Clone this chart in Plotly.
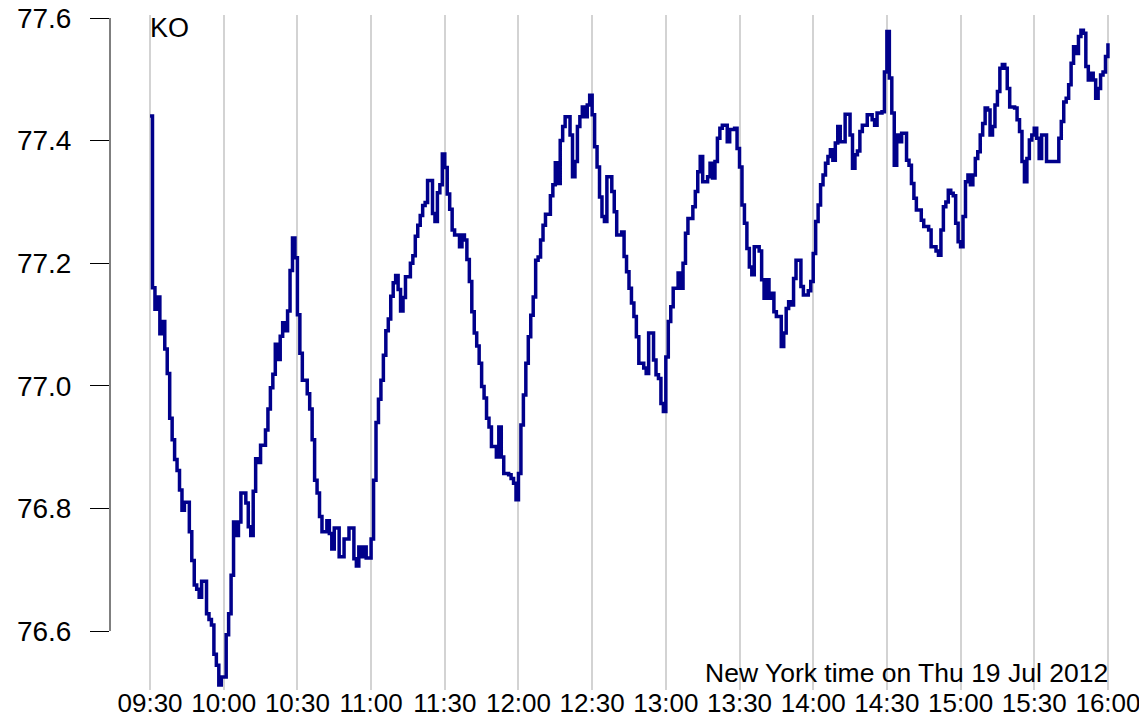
import pandas as pd
import plotly.graph_objects as go

symbol = "KO"
session_date = "2012-07-19"
caption = "New York time on Thu 19 Jul 2012"

minutes = [
    0, 1, 2, 3, 4, 5, 6, 7, 8, 9, 10, 11, 12, 13, 14, 16, 17, 18, 19, 20, 21, 23, 24, 25, 26, 27, 28, 29,
    31, 32, 33, 34, 35, 36, 37, 39, 40, 41, 42, 43, 44, 45, 47, 48, 49, 50, 51, 52, 53, 54, 55, 56, 57, 58,
    59, 60, 61, 62, 64, 65, 66, 67, 68, 69, 70, 72, 73, 74, 75, 77, 79, 81, 83, 84, 85, 86, 87, 88, 90,
    91, 92, 93, 94, 95, 96, 97, 98, 99, 100, 101, 102, 103, 104, 106, 107, 108, 109, 110, 111, 112, 113,
    115, 116, 117, 118, 119, 120, 121, 122, 123, 124, 126, 127, 128, 129, 130, 131, 132, 133, 134, 135,
    136, 137, 138, 139, 141, 142, 143, 144, 146, 147, 148, 149, 150, 151, 152, 153, 154, 155, 156, 157,
    158, 159, 160, 161, 163, 164, 165, 166, 167, 168, 169, 171, 172, 173, 174, 175, 176, 177, 178, 179,
    180, 181, 182, 183, 184, 185, 186, 188, 189, 190, 192, 193, 194, 195, 196, 197, 198, 199, 201, 202,
    203, 205, 206, 207, 208, 209, 210, 211, 212, 213, 215, 216, 217, 218, 219, 221, 222, 223, 224, 225,
    227, 228, 229, 230, 231, 232, 233, 235, 236, 238, 239, 240, 241, 242, 243, 244, 245, 246, 248, 249,
    250, 251, 252, 253, 254, 255, 257, 258, 259, 260, 261, 262, 263, 265, 266, 268, 269, 270, 271, 272,
    273, 274, 275, 276, 277, 278, 279, 280, 281, 283, 285, 286, 287, 288, 289, 290, 292, 294, 295, 296,
    298, 299, 300, 301, 302, 303, 304, 305, 306, 308, 309, 310, 311, 312, 314, 315, 317, 318, 320, 321,
    322, 323, 324, 325, 326, 327, 328, 329, 330, 331, 332, 333, 334, 335, 336, 337, 338, 339, 340, 341,
    342, 343, 344, 345, 346, 347, 348, 349, 350, 352, 353, 354, 355, 356, 357, 358, 359, 360, 361, 362,
    363, 365, 370, 371, 372, 373, 374, 375, 376, 377, 378, 379, 380, 381, 382, 383, 384, 385, 386, 387,
    388, 389, 390,
]

prices = [
    77.44, 77.16, 77.125, 77.145, 77.085, 77.105, 77.06, 77.02, 76.947, 76.912, 76.88, 76.862, 76.83,
    76.797, 76.81, 76.762, 76.715, 76.675, 76.668, 76.655, 76.681, 76.628, 76.619, 76.61, 76.562, 76.544,
    76.512, 76.525, 76.594, 76.628, 76.691, 76.778, 76.756, 76.778, 76.825, 76.809, 76.77, 76.756, 76.828,
    76.881, 76.875, 76.903, 76.928, 76.962, 76.997, 77.019, 77.068, 77.043, 77.081, 77.103, 77.09, 77.122,
    77.188, 77.241, 77.209, 77.116, 77.053, 77.009, 76.987, 76.962, 76.912, 76.846, 76.825, 76.787,
    76.762, 76.78, 76.759, 76.734, 76.768, 76.721, 76.75, 76.768, 76.718, 76.706, 76.737, 76.721, 76.737,
    76.719, 76.75, 76.846, 76.94, 76.978, 77.009, 77.05, 77.09, 77.109, 77.146, 77.168, 77.18, 77.157,
    77.122, 77.144, 77.178, 77.2, 77.212, 77.244, 77.262, 77.278, 77.294, 77.299, 77.335, 77.281, 77.268,
    77.315, 77.328, 77.378, 77.356, 77.313, 77.288, 77.254, 77.246, 77.227, 77.246, 77.238, 77.206,
    77.17, 77.121, 77.086, 77.065, 77.037, 76.999, 76.98, 76.947, 76.933, 76.901, 76.884, 76.933, 76.884,
    76.857, 76.855, 76.849, 76.841, 76.814, 76.857, 76.936, 76.985, 77.037, 77.08, 77.115, 77.145,
    77.205, 77.21, 77.238, 77.262, 77.28, 77.31, 77.328, 77.364, 77.33, 77.40, 77.423, 77.439, 77.409,
    77.341, 77.366, 77.423, 77.439, 77.455, 77.439, 77.458, 77.474, 77.442, 77.39, 77.357, 77.308,
    77.276, 77.268, 77.341, 77.317, 77.284, 77.246, 77.251, 77.211, 77.186, 77.159, 77.135, 77.113,
    77.08, 77.037, 77.029, 77.02, 77.086, 77.042, 77.018, 77.012, 76.971, 76.958, 77.047, 77.105, 77.129,
    77.159, 77.184, 77.159, 77.2, 77.249, 77.273, 77.292, 77.317, 77.349, 77.374, 77.333, 77.341,
    77.363, 77.339, 77.366, 77.404, 77.42, 77.425, 77.398, 77.418, 77.42, 77.387, 77.357, 77.295,
    77.265, 77.224, 77.194, 77.181, 77.227, 77.22, 77.173, 77.143, 77.173, 77.143, 77.151, 77.121,
    77.113, 77.064, 77.086, 77.126, 77.137, 77.132, 77.175, 77.205, 77.162, 77.148, 77.155, 77.17,
    77.216, 77.268, 77.295, 77.328, 77.344, 77.363, 77.374, 77.385, 77.368, 77.396, 77.423, 77.398,
    77.443, 77.409, 77.355, 77.377, 77.383, 77.415, 77.425, 77.442, 77.434, 77.425, 77.445, 77.447,
    77.512, 77.578, 77.502, 77.445, 77.36, 77.409, 77.398, 77.412, 77.368, 77.36, 77.33, 77.306, 77.287,
    77.27, 77.26, 77.254, 77.227, 77.22, 77.213, 77.254, 77.292, 77.30, 77.319, 77.314, 77.31, 77.265,
    77.235, 77.227, 77.276, 77.333, 77.344, 77.328, 77.344, 77.371, 77.382, 77.409, 77.428, 77.453,
    77.45, 77.409, 77.423, 77.458, 77.48, 77.518, 77.524, 77.518, 77.485, 77.455, 77.453, 77.434,
    77.415, 77.366, 77.333, 77.371, 77.401, 77.409, 77.42, 77.404, 77.371, 77.409, 77.366, 77.404,
    77.431, 77.463, 77.469, 77.491, 77.526, 77.553, 77.542, 77.57, 77.58, 77.575, 77.521, 77.499, 77.51,
    77.499, 77.469, 77.485, 77.507, 77.512, 77.537, 77.559,
]

x_tick_labels = ["09:30", "10:00", "10:30", "11:00", "11:30", "12:00", "12:30",
                 "13:00", "13:30", "14:00", "14:30", "15:00", "15:30", "16:00"]
y_tick_values = [76.6, 76.8, 77.0, 77.2, 77.4, 77.6]

open_time = pd.Timestamp(f"{session_date} 09:30")
times = [open_time + pd.Timedelta(minutes=m) for m in minutes]
tick_times = [pd.Timestamp(f"{session_date} {t}") for t in x_tick_labels]

FONT = "Liberation Sans, Arial, sans-serif"

fig = go.Figure()
fig.add_trace(go.Scatter(
    x=times, y=prices, mode="lines", line_shape="hv",
    line=dict(color="#00008B", width=3.5), showlegend=False,
))

x_lo = open_time - pd.Timedelta(minutes=16.3)
x_hi = tick_times[-1] + pd.Timedelta(minutes=15.9)

fig.update_xaxes(
    range=[x_lo, x_hi], tickvals=tick_times, ticktext=x_tick_labels,
    showgrid=True, gridcolor="#D3D3D3", gridwidth=1.5,
    showline=False, zeroline=False, ticks="", automargin=False,
    tickfont=dict(family=FONT, size=26, color="black"),
    ticklabelstandoff=-5, ticklabeloverflow="allow",
)
fig.update_yaxes(
    range=[76.5038, 77.6049], tickvals=y_tick_values,
    ticktext=[f"{v:.1f}" for v in y_tick_values],
    showgrid=False, zeroline=False, showline=False, automargin=False,
    ticks="outside", ticklen=19, tickwidth=1, tickcolor="black",
    tickfont=dict(family=FONT, size=28, color="black"),
    ticklabelstandoff=13, ticklabeloverflow="allow",
)

fig.add_shape(type="line", xref="paper", yref="y", x0=0, x1=0,
              y0=y_tick_values[0], y1=y_tick_values[-1],
              line=dict(color="black", width=1))

fig.add_annotation(x=open_time, xref="x", y=1, yref="paper", text=symbol,
                   xanchor="left", yanchor="top", showarrow=False,
                   font=dict(family=FONT, size=27, color="black"), xshift=-2, yshift=4)
fig.add_annotation(x=tick_times[-1], xref="x", y=0, yref="paper", text=caption,
                   xanchor="right", yanchor="bottom", showarrow=False,
                   font=dict(family=FONT, size=26.5, color="black"), xshift=2, yshift=0)

# the page adds an 8px body margin, so the figure is sized to fill the window
fig.update_layout(
    width=1139, height=709,
    margin=dict(l=102, r=0, t=7, b=27),
    paper_bgcolor="white", plot_bgcolor="white",
)

fig.write_html("out.html")
